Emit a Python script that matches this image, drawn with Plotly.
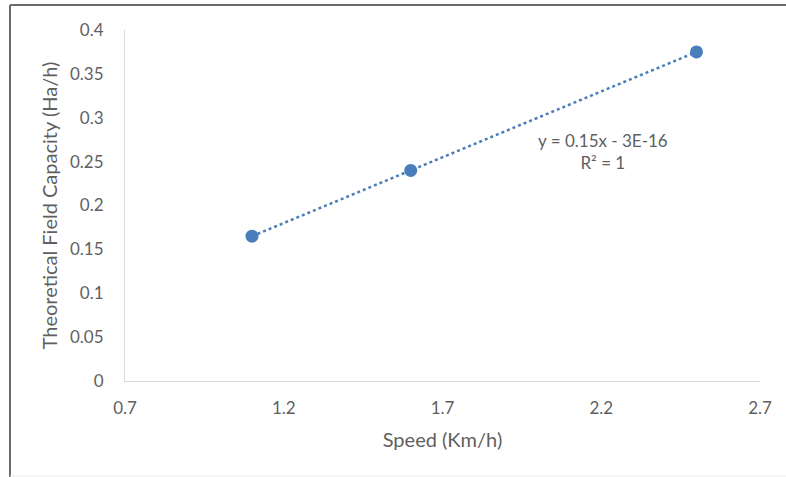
import numpy as np
import plotly.graph_objects as go

speed = [1.1, 1.6, 2.5]
capacity = [0.165, 0.24, 0.375]
x_ticks = [0.7, 1.2, 1.7, 2.2, 2.7]
y_ticks = [0, 0.05, 0.1, 0.15, 0.2, 0.25, 0.3, 0.35, 0.4]
y_tick_text = ["0", "0.05", "0.1", "0.15", "0.2", "0.25", "0.3", "0.35", "0.4"]

slope, intercept = np.polyfit(speed, capacity, 1)
trend_x = [min(speed), max(speed)]
trend_y = [slope * v + intercept for v in trend_x]

color = "#4a7ebb"
font = "Lato, 'Open Sans', sans-serif"
grey = "#5f5f5f"

fig = go.Figure()
fig.add_trace(go.Scatter(x=trend_x, y=trend_y, mode="lines",
                         line=dict(color=color, width=2.5, dash="dot"),
                         hoverinfo="skip", showlegend=False))
fig.add_trace(go.Scatter(x=speed, y=capacity, mode="markers",
                         marker=dict(color=color, size=13),
                         showlegend=False))

L, R, T, B = 125, 26, 30, 96
W, H = 786, 477
pw, ph = W - L - R, H - T - B

fig.update_layout(
    width=W, height=H,
    margin=dict(l=L, r=R, t=T, b=B),
    paper_bgcolor="white", plot_bgcolor="white",
    font=dict(family=font, color=grey, size=17),
    xaxis=dict(range=[0.7, 2.7], tickvals=x_ticks, ticktext=[str(v) for v in x_ticks],
               showgrid=False, zeroline=False, showline=True, linecolor="#d9d9d9",
               linewidth=1, ticks="", ticklabelstandoff=12,
               title=dict(text="Speed (Km/h)", font=dict(size=20, color=grey), standoff=15)),
    yaxis=dict(range=[0, 0.4], tickvals=y_ticks, ticktext=y_tick_text,
               showgrid=False, zeroline=False, showline=True, linecolor="#d9d9d9",
               linewidth=1, ticks="", ticklabelstandoff=17,
               title=dict(text="Theoretical Field Capacity (Ha/h)", font=dict(size=20, color=grey), standoff=7)),
    annotations=[dict(x=2.206, y=0.261, xref="x", yref="y",
                      text="y = 0.15x - 3E-16<br>R² = 1", showarrow=False,
                      align="center", font=dict(size=17, color=grey))],
    shapes=[
        dict(type="line", xref="paper", yref="paper",
             x0=(10 - L) / pw, x1=(W - L) / pw, y0=1 + (T - 5) / ph, y1=1 + (T - 5) / ph,
             line=dict(color="#6b6b6b", width=2)),
        dict(type="line", xref="paper", yref="paper",
             x0=(10 - L) / pw, x1=(10 - L) / pw, y0=1 + (T - 5) / ph, y1=-B / ph,
             line=dict(color="#6b6b6b", width=2)),
        dict(type="line", xref="paper", yref="paper",
             x0=(10 - L) / pw, x1=(W - L) / pw, y0=-(B - 1) / ph, y1=-(B - 1) / ph,
             line=dict(color="#eeeeee", width=1)),
    ],
)

fig.write_html("out.html")
